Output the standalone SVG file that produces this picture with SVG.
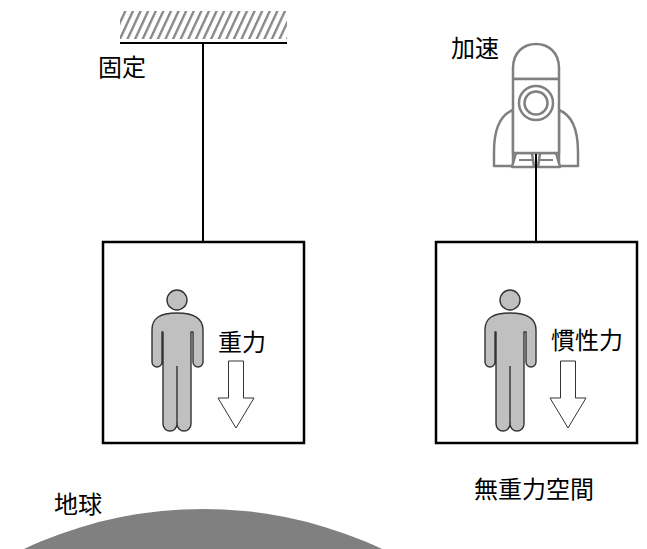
<svg xmlns="http://www.w3.org/2000/svg" width="647" height="549" viewBox="0 0 647 549">
  <defs>
    <pattern id="hatch" patternUnits="userSpaceOnUse" width="7.6" height="40" patternTransform="skewX(-25)">
      <rect x="0" y="0" width="2.6" height="40" fill="#888888"/>
    </pattern>
    <g id="person">
      <circle cx="177" cy="300" r="10" class="body"/>
      <path class="body" d="M152,330 C152,318 160,313 177,313 C194,313 203,318 203,330 L203,362 A5,5 0 0 1 193,362 L193,332 L191,332 L191,424 A7,7 0 0 1 177,424 A7,7 0 0 1 163,424 L163,332 L162,332 L162,362 A5,5 0 0 1 152,362 Z"/>
      <line x1="177" y1="366" x2="177" y2="424" class="limb"/>
    </g>
    <path id="down-arrow" class="arrow" d="M228.5,361 L243.5,361 L243.5,398 L254,398 L236,428 L218,398 L228.5,398 Z"/>
  </defs>
  <style>
    .label { font-family: "Noto Sans CJK JP", "Noto Sans", sans-serif; font-size: 24px; fill: #000000; }
    .frame { fill: #ffffff; stroke: #000000; stroke-width: 2.5; }
    .wire { stroke: #000000; stroke-width: 2; fill: none; }
    .body { fill: #c0c0c0; stroke: #333333; stroke-width: 1.4; stroke-linejoin: round; }
    .limb { stroke: #333333; stroke-width: 1.4; }
    .arrow { fill: #ffffff; stroke: #333333; stroke-width: 1; stroke-linejoin: miter; }
    .rocket { fill: #ffffff; stroke: #808080; stroke-width: 2.5; stroke-linejoin: round; }
  </style>

  <!-- ceiling support -->
  <g id="ceiling">
    <rect x="120" y="11" width="167" height="28" fill="url(#hatch)"/>
    <line x1="120" y1="43" x2="287" y2="43" class="wire"/>
    <text x="98" y="76" class="label">固定</text>
  </g>

  <!-- rocket -->
  <g id="rocket">
    <path class="rocket" d="M513,110 C500,115 494,130 494,152 L494,166 L513,166 Z"/>
    <path class="rocket" d="M559,110 C572,115 578,130 578,152 L578,166 L559,166 Z"/>
    <polygon class="rocket" points="516,153 532,153 534,167 512,167"/>
    <line x1="519" y1="160" x2="532" y2="160" stroke="#808080" stroke-width="2"/>
    <polygon class="rocket" points="540,153 556,153 560,167 538,167"/>
    <line x1="540" y1="160" x2="553" y2="160" stroke="#808080" stroke-width="2"/>
    <path class="rocket" d="M513,79 L513,68 C513,52 524,44 536,44 C548,44 559,52 559,68 L559,79 Z"/>
    <rect x="513" y="79" width="46" height="74" class="rocket"/>
    <circle cx="536" cy="103" r="17" class="rocket"/>
    <circle cx="536" cy="103" r="11.5" class="rocket"/>
    <text x="451" y="57" class="label">加速</text>
  </g>

  <!-- connectors -->
  <g id="connectors">
    <line x1="203" y1="44" x2="203" y2="242" class="wire"/>
    <line x1="536" y1="154" x2="536" y2="242" class="wire"/>
  </g>

  <!-- elevator hanging under the ceiling -->
  <g id="box-gravity">
    <rect x="103" y="242" width="201" height="201" class="frame"/>
    <use href="#person"/>
    <use href="#down-arrow"/>
    <text x="218" y="351" class="label">重力</text>
  </g>

  <!-- elevator pulled by the rocket -->
  <g id="box-inertia">
    <rect x="436" y="242" width="201" height="201" class="frame"/>
    <use href="#person" transform="translate(333,0)"/>
    <use href="#down-arrow" transform="translate(332,0)"/>
    <text x="551" y="349" class="label">慣性力</text>
  </g>

  <text x="474" y="498" class="label">無重力空間</text>

  <!-- earth surface -->
  <g id="earth">
    <circle cx="203" cy="930" r="421" fill="#808080"/>
    <text x="54" y="513" class="label">地球</text>
  </g>
</svg>
